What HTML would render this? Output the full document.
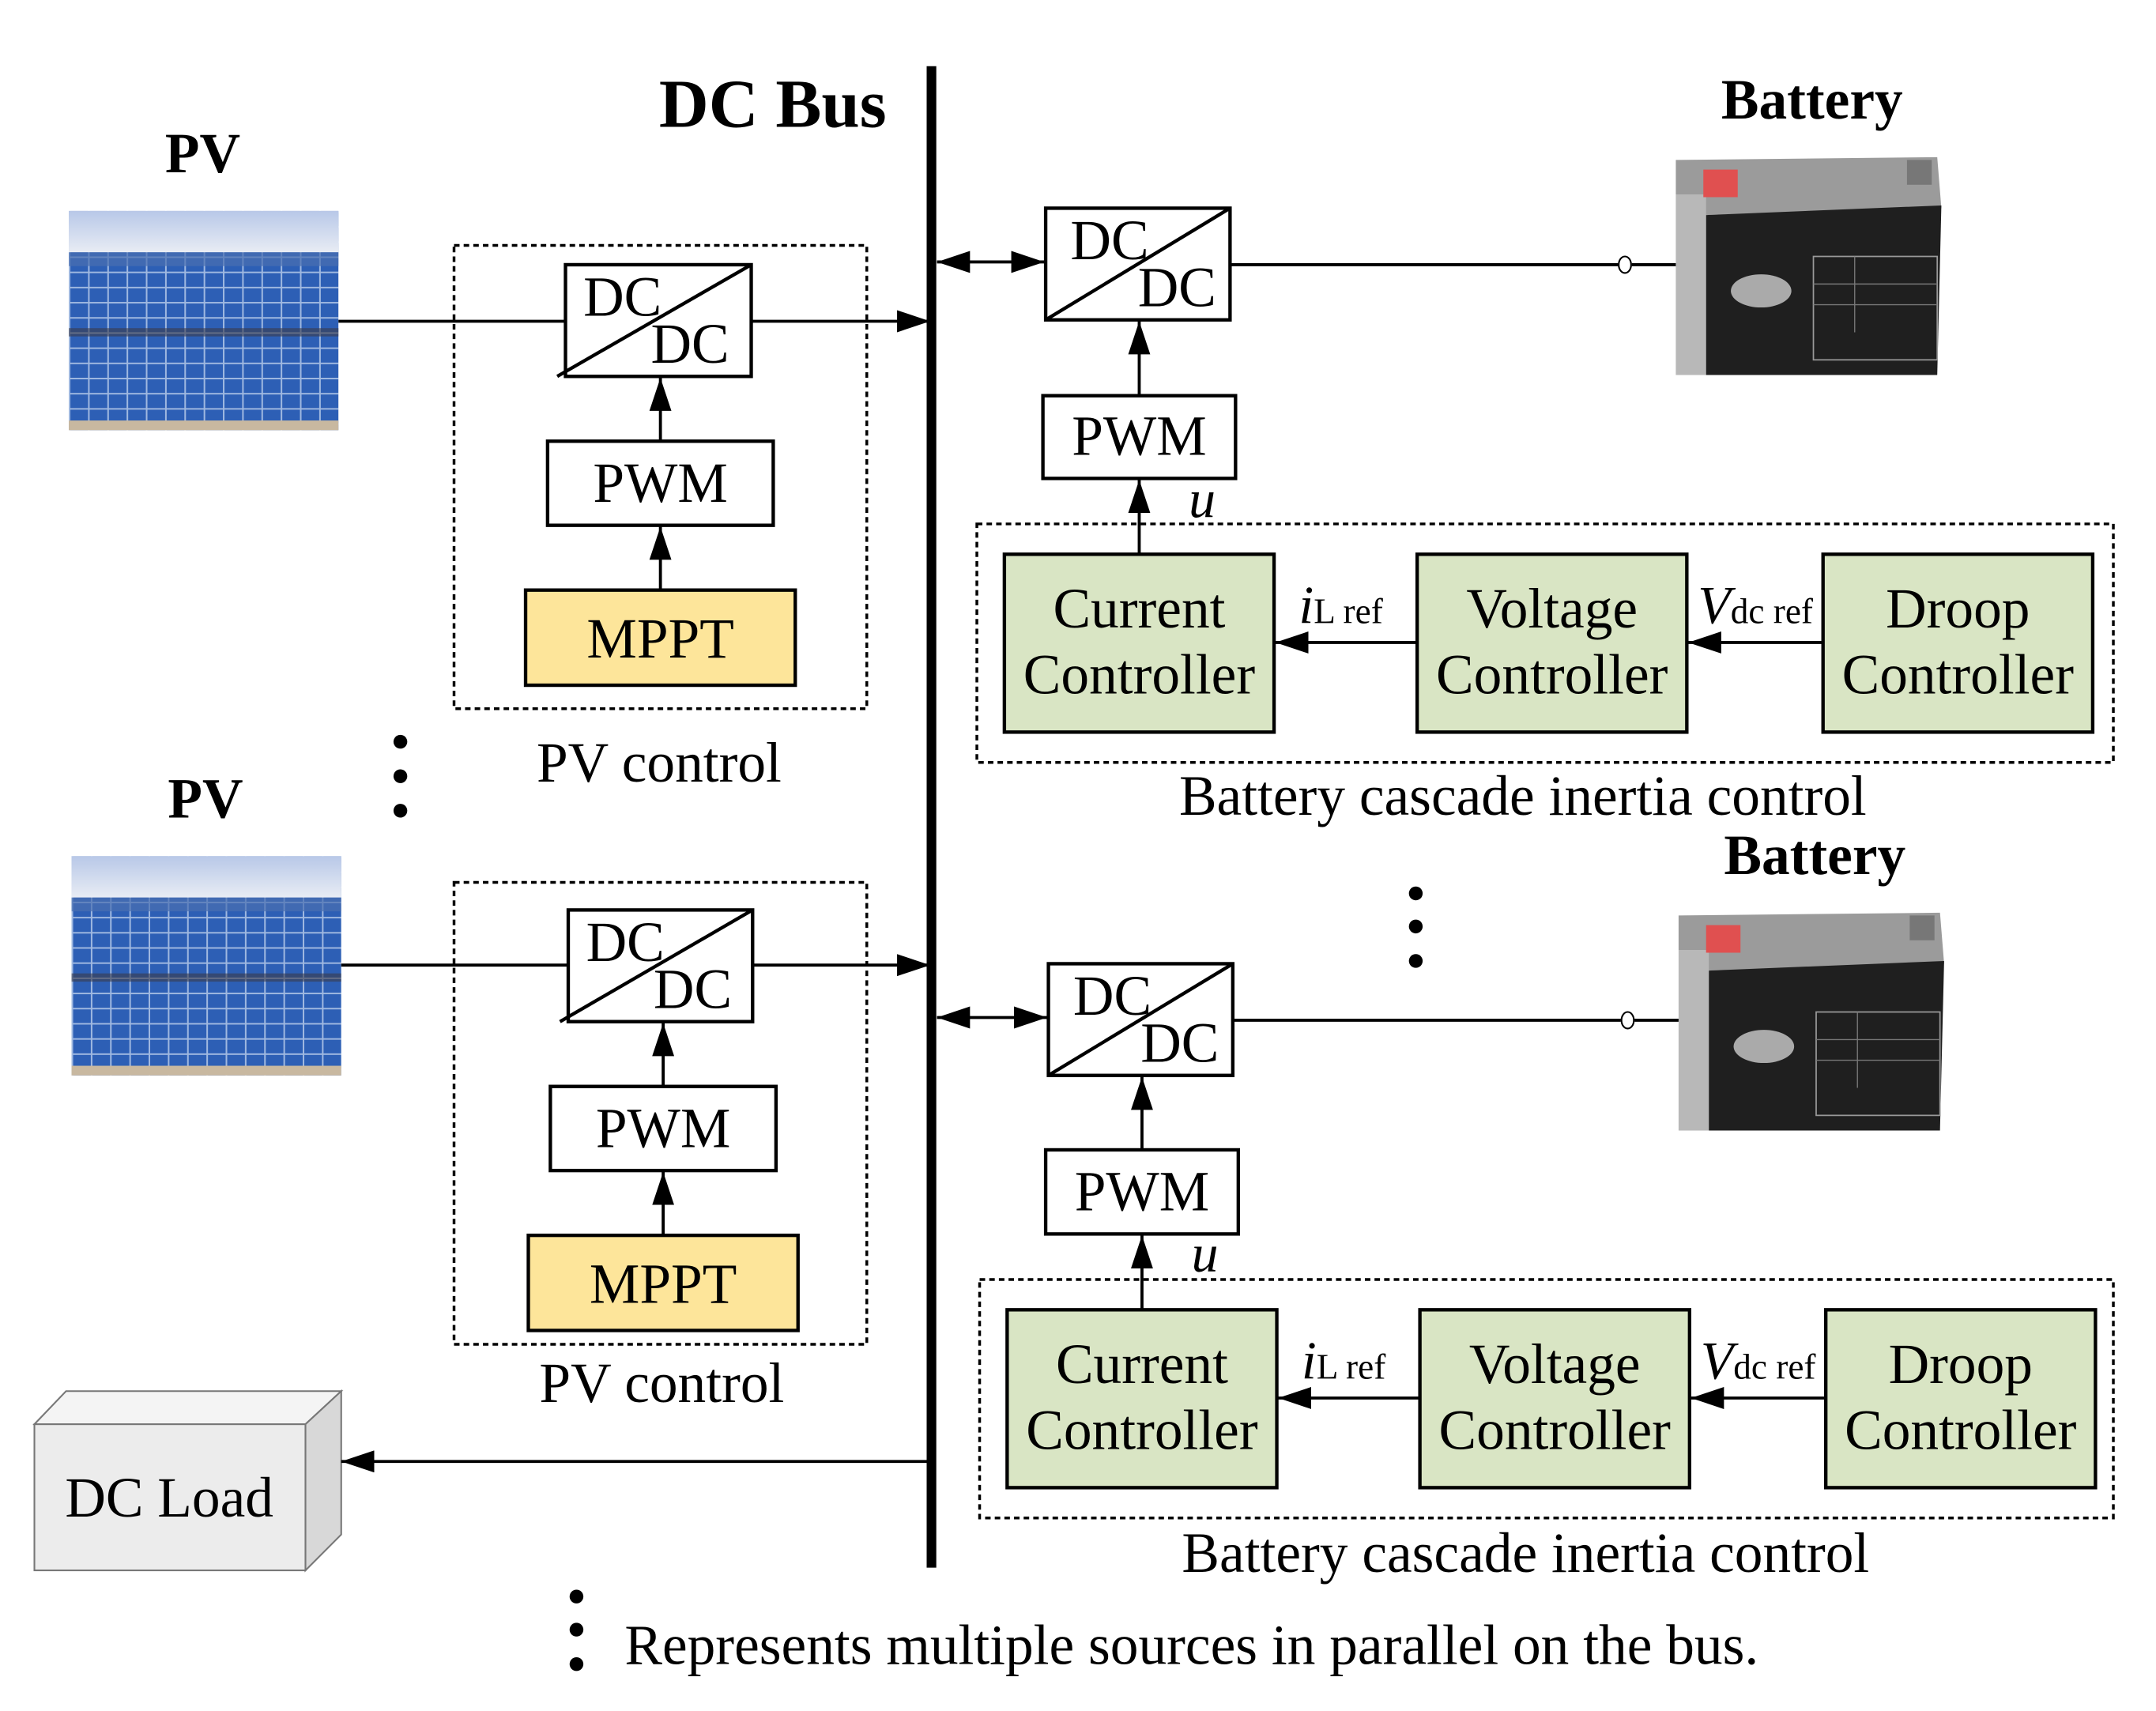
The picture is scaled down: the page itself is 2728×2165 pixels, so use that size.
<!DOCTYPE html>
<html><head><meta charset="utf-8"><style>
html,body{margin:0;padding:0;background:#fff;}
svg{display:block;}
text{font-family:"Liberation Serif",serif;fill:#000;}
</style></head><body>
<svg width="2728" height="2165" viewBox="0 0 1567 1241" preserveAspectRatio="none" xmlns="http://www.w3.org/2000/svg">
<defs>
<marker id="ab" viewBox="0 0 10 10" refX="10" refY="5" markerWidth="24" markerHeight="16" orient="auto-start-reverse" markerUnits="userSpaceOnUse" preserveAspectRatio="none"><path d="M0,0 L10,5 L0,10 z" fill="#000"/></marker>
<linearGradient id="sky" x1="0" y1="0" x2="0" y2="1"><stop offset="0" stop-color="#b8c8e8"/><stop offset="1" stop-color="#e8ecf4"/></linearGradient>
<pattern id="cells" width="14" height="11" patternUnits="userSpaceOnUse"><rect width="14" height="11" fill="#2d5fb5"/><path d="M0,0.5H14M0.5,0V11" stroke="#9fb8e0" stroke-width="1.3"/></pattern>
<g id="pv">
<rect x="0" y="0" width="196" height="159" fill="url(#cells)"/>
<rect x="0" y="0" width="196" height="30" fill="url(#sky)"/>
<rect x="0" y="30" width="196" height="10" fill="#4a6fb0" opacity="0.7"/>
<rect x="0" y="85" width="196" height="6" fill="#3a3a4a" opacity="0.6"/>
<rect x="0" y="152" width="196" height="7" fill="#c8b8a0"/>
</g>
<g id="bat">
<rect x="0" y="0" width="195" height="161" fill="#fff"/>
<polygon points="0,5 190,3 193,40 22,45 0,30" fill="#9b9b9b"/>
<rect x="0" y="30" width="22" height="131" fill="#b8b8b8"/>
<polygon points="22,45 193,38 190,161 22,161" fill="#1f1f1f"/>
<rect x="20" y="12" width="25" height="20" fill="#e05050"/>
<rect x="168" y="5" width="18" height="18" fill="#777"/>
<ellipse cx="62" cy="100" rx="22" ry="12" fill="#aaa"/>
<rect x="100" y="75" width="90" height="75" fill="none" stroke="#999" stroke-width="1"/>
<path d="M100,95H190M100,110H190M130,75V130" stroke="#777" stroke-width="0.8"/>
</g>
</defs>

<line x1="677" y1="48" x2="677" y2="1137" stroke="#000" stroke-width="7"/>
<text x="479" y="92" font-size="50" font-weight="bold">DC Bus</text>

<text x="120" y="125" font-size="41" font-weight="bold">PV</text>
<use href="#pv" x="50" y="153"/>
<rect x="330" y="178" width="300" height="336" fill="none" stroke="#000" stroke-width="2" stroke-dasharray="4,3"/>
<line x1="246" y1="233" x2="676" y2="233" stroke="#000" stroke-width="2.2" marker-end="url(#ab)"/>
<rect x="411" y="192" width="135" height="81" fill="#fff" stroke="#000" stroke-width="2.5"/>
<line x1="405" y1="273" x2="546" y2="192" stroke="#000" stroke-width="2.5"/>
<text x="424" y="229" font-size="41">DC</text><text x="473" y="263" font-size="41">DC</text>
<rect x="398" y="320" width="164" height="61" fill="#fff" stroke="#000" stroke-width="2.5"/>
<text x="480" y="364" font-size="41" text-anchor="middle">PWM</text>
<line x1="480" y1="320" x2="480" y2="274" stroke="#000" stroke-width="2.2" marker-end="url(#ab)"/>
<rect x="382" y="428" width="196" height="69" fill="#fde59a" stroke="#000" stroke-width="2.5"/>
<text x="480" y="477" font-size="41" text-anchor="middle">MPPT</text>
<line x1="480" y1="428" x2="480" y2="382" stroke="#000" stroke-width="2.2" marker-end="url(#ab)"/>
<text x="390" y="567" font-size="41">PV control</text>
<circle cx="291" cy="538" r="5"/><circle cx="291" cy="563" r="5"/><circle cx="291" cy="588" r="5"/>

<text x="122" y="593" font-size="41" font-weight="bold">PV</text>
<use href="#pv" x="52" y="621"/>
<rect x="330" y="640" width="300" height="335" fill="none" stroke="#000" stroke-width="2" stroke-dasharray="4,3"/>
<line x1="248" y1="700" x2="676" y2="700" stroke="#000" stroke-width="2.2" marker-end="url(#ab)"/>
<rect x="413" y="660" width="134" height="81" fill="#fff" stroke="#000" stroke-width="2.5"/>
<line x1="407" y1="741" x2="547" y2="660" stroke="#000" stroke-width="2.5"/>
<text x="426" y="697" font-size="41">DC</text><text x="475" y="731" font-size="41">DC</text>
<rect x="400" y="788" width="164" height="61" fill="#fff" stroke="#000" stroke-width="2.5"/>
<text x="482" y="832" font-size="41" text-anchor="middle">PWM</text>
<line x1="482" y1="788" x2="482" y2="742" stroke="#000" stroke-width="2.2" marker-end="url(#ab)"/>
<rect x="384" y="896" width="196" height="69" fill="#fde59a" stroke="#000" stroke-width="2.5"/>
<text x="482" y="945" font-size="41" text-anchor="middle">MPPT</text>
<line x1="482" y1="896" x2="482" y2="850" stroke="#000" stroke-width="2.2" marker-end="url(#ab)"/>
<text x="392" y="1017" font-size="41">PV control</text>

<polygon points="25,1033 48,1009 248,1009 222,1033" fill="#f4f4f4" stroke="#777" stroke-width="1.2"/>
<polygon points="222,1033 248,1009 248,1113 222,1139" fill="#d8d8d8" stroke="#777" stroke-width="1.2"/>
<rect x="25" y="1033" width="197" height="106" fill="#ececec" stroke="#777" stroke-width="1.2"/>
<text x="123" y="1100" font-size="41" text-anchor="middle">DC Load</text>
<line x1="674" y1="1060" x2="248" y2="1060" stroke="#000" stroke-width="2.2" marker-end="url(#ab)"/>

<text x="1251" y="86" font-size="41" font-weight="bold">Battery</text>
<use href="#bat" x="1218" y="111"/>
<line x1="681" y1="190" x2="759" y2="190" stroke="#000" stroke-width="2.2" marker-start="url(#ab)" marker-end="url(#ab)"/>
<rect x="760" y="151" width="134" height="81" fill="#fff" stroke="#000" stroke-width="2.5"/>
<line x1="760" y1="232" x2="894" y2="151" stroke="#000" stroke-width="2.5"/>
<text x="778" y="188" font-size="41">DC</text><text x="827" y="222" font-size="41">DC</text>
<line x1="894" y1="192" x2="1176" y2="192" stroke="#000" stroke-width="2.2"/>
<ellipse cx="1181" cy="192" rx="4.5" ry="6" fill="#fff" stroke="#000" stroke-width="1.2"/>
<line x1="1186" y1="192" x2="1218" y2="192" stroke="#000" stroke-width="2.2"/>
<rect x="758" y="287" width="140" height="60" fill="#fff" stroke="#000" stroke-width="2.5"/>
<text x="828" y="330" font-size="41" text-anchor="middle">PWM</text>
<line x1="828" y1="287" x2="828" y2="233" stroke="#000" stroke-width="2.2" marker-end="url(#ab)"/>
<line x1="828" y1="402" x2="828" y2="348" stroke="#000" stroke-width="2.2" marker-end="url(#ab)"/>
<text x="864" y="375" font-size="39" font-style="italic">u</text>
<rect x="710" y="380" width="826" height="173" fill="none" stroke="#000" stroke-width="2" stroke-dasharray="4,3"/>
<rect x="730" y="402" width="196" height="129" fill="#d9e5c4" stroke="#000" stroke-width="2.5"/>
<text x="828" y="455" font-size="41" text-anchor="middle">Current</text><text x="828" y="503" font-size="41" text-anchor="middle">Controller</text>
<rect x="1030" y="402" width="196" height="129" fill="#d9e5c4" stroke="#000" stroke-width="2.5"/>
<text x="1128" y="455" font-size="41" text-anchor="middle">Voltage</text><text x="1128" y="503" font-size="41" text-anchor="middle">Controller</text>
<rect x="1325" y="402" width="196" height="129" fill="#d9e5c4" stroke="#000" stroke-width="2.5"/>
<text x="1423" y="455" font-size="41" text-anchor="middle">Droop</text><text x="1423" y="503" font-size="41" text-anchor="middle">Controller</text>
<line x1="1030" y1="466" x2="927" y2="466" stroke="#000" stroke-width="2.2" marker-end="url(#ab)"/>
<line x1="1325" y1="466" x2="1227" y2="466" stroke="#000" stroke-width="2.2" marker-end="url(#ab)"/>
<text x="944" y="452" font-size="39"><tspan font-style="italic">i</tspan><tspan font-size="26">L ref</tspan></text>
<text x="1234" y="452" font-size="39"><tspan font-style="italic">V</tspan><tspan font-size="26">dc ref</tspan></text>
<text x="857" y="591" font-size="41">Battery cascade inertia control</text>

<text x="1253" y="634" font-size="41" font-weight="bold">Battery</text>
<circle cx="1029" cy="648" r="5"/><circle cx="1029" cy="672" r="5"/><circle cx="1029" cy="697" r="5"/>
<use href="#bat" x="1220" y="659"/>
<line x1="681" y1="738" x2="761" y2="738" stroke="#000" stroke-width="2.2" marker-start="url(#ab)" marker-end="url(#ab)"/>
<rect x="762" y="699" width="134" height="81" fill="#fff" stroke="#000" stroke-width="2.5"/>
<line x1="762" y1="780" x2="896" y2="699" stroke="#000" stroke-width="2.5"/>
<text x="780" y="736" font-size="41">DC</text><text x="829" y="770" font-size="41">DC</text>
<line x1="896" y1="740" x2="1178" y2="740" stroke="#000" stroke-width="2.2"/>
<ellipse cx="1183" cy="740" rx="4.5" ry="6" fill="#fff" stroke="#000" stroke-width="1.2"/>
<line x1="1188" y1="740" x2="1220" y2="740" stroke="#000" stroke-width="2.2"/>
<rect x="760" y="834" width="140" height="61" fill="#fff" stroke="#000" stroke-width="2.5"/>
<text x="830" y="878" font-size="41" text-anchor="middle">PWM</text>
<line x1="830" y1="834" x2="830" y2="781" stroke="#000" stroke-width="2.2" marker-end="url(#ab)"/>
<line x1="830" y1="950" x2="830" y2="896" stroke="#000" stroke-width="2.2" marker-end="url(#ab)"/>
<text x="866" y="922" font-size="39" font-style="italic">u</text>
<rect x="712" y="928" width="824" height="173" fill="none" stroke="#000" stroke-width="2" stroke-dasharray="4,3"/>
<rect x="732" y="950" width="196" height="129" fill="#d9e5c4" stroke="#000" stroke-width="2.5"/>
<text x="830" y="1003" font-size="41" text-anchor="middle">Current</text><text x="830" y="1051" font-size="41" text-anchor="middle">Controller</text>
<rect x="1032" y="950" width="196" height="129" fill="#d9e5c4" stroke="#000" stroke-width="2.5"/>
<text x="1130" y="1003" font-size="41" text-anchor="middle">Voltage</text><text x="1130" y="1051" font-size="41" text-anchor="middle">Controller</text>
<rect x="1327" y="950" width="196" height="129" fill="#d9e5c4" stroke="#000" stroke-width="2.5"/>
<text x="1425" y="1003" font-size="41" text-anchor="middle">Droop</text><text x="1425" y="1051" font-size="41" text-anchor="middle">Controller</text>
<line x1="1032" y1="1014" x2="929" y2="1014" stroke="#000" stroke-width="2.2" marker-end="url(#ab)"/>
<line x1="1327" y1="1014" x2="1229" y2="1014" stroke="#000" stroke-width="2.2" marker-end="url(#ab)"/>
<text x="946" y="1000" font-size="39"><tspan font-style="italic">i</tspan><tspan font-size="26">L ref</tspan></text>
<text x="1236" y="1000" font-size="39"><tspan font-style="italic">V</tspan><tspan font-size="26">dc ref</tspan></text>
<text x="859" y="1140" font-size="41">Battery cascade inertia control</text>

<circle cx="419" cy="1158" r="5"/><circle cx="419" cy="1182" r="5"/><circle cx="419" cy="1207" r="5"/>
<text x="454" y="1207" font-size="41">Represents multiple sources in parallel on the bus.</text>
</svg>
</body></html>
